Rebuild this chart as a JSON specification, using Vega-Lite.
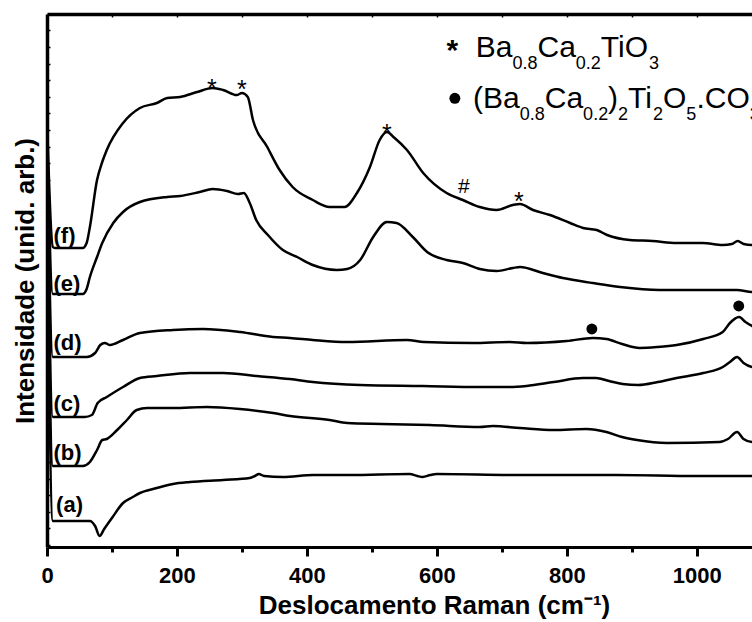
{
  "$schema": "https://vega.github.io/schema/vega-lite/v6.json",
  "width": 705,
  "height": 533,
  "autosize": {"type": "none"},
  "padding": {"left": 47, "top": 14, "right": 0, "bottom": 75},
  "background": "white",
  "config": {
    "view": {"stroke": null},
    "font": "Liberation Sans",
    "axis": {"domainColor": "black", "tickColor": "black", "labelColor": "black", "titleColor": "black", "grid": false}
  },
  "datasets": {
    "spectra": [
      {"s":"f","x":0,"y":428},{"s":"f","x":9,"y":300},{"s":"f","x":12,"y":299},{"s":"f","x":55,"y":299},{"s":"f","x":61,"y":304},{"s":"f","x":66,"y":320},{"s":"f","x":77,"y":367},{"s":"f","x":85,"y":385},{"s":"f","x":92,"y":397},{"s":"f","x":117,"y":424},{"s":"f","x":143,"y":439},{"s":"f","x":169,"y":444},{"s":"f","x":185,"y":449},{"s":"f","x":205,"y":450},{"s":"f","x":231,"y":455},{"s":"f","x":255,"y":459},{"s":"f","x":271,"y":457},{"s":"f","x":292,"y":452},{"s":"f","x":300,"y":454},{"s":"f","x":309,"y":450},{"s":"f","x":317,"y":427},{"s":"f","x":339,"y":400},{"s":"f","x":358,"y":377},{"s":"f","x":378,"y":360},{"s":"f","x":409,"y":347},{"s":"f","x":435,"y":340},{"s":"f","x":458,"y":340},{"s":"f","x":477,"y":354},{"s":"f","x":497,"y":380},{"s":"f","x":512,"y":407},{"s":"f","x":523,"y":415},{"s":"f","x":535,"y":409},{"s":"f","x":554,"y":397},{"s":"f","x":579,"y":374},{"s":"f","x":615,"y":354},{"s":"f","x":640,"y":347},{"s":"f","x":666,"y":340},{"s":"f","x":692,"y":337},{"s":"f","x":717,"y":342},{"s":"f","x":728,"y":343},{"s":"f","x":748,"y":337},{"s":"f","x":774,"y":332},{"s":"f","x":805,"y":324},{"s":"f","x":825,"y":319},{"s":"f","x":846,"y":317},{"s":"f","x":862,"y":312},{"s":"f","x":897,"y":307},{"s":"f","x":932,"y":306},{"s":"f","x":969,"y":304},{"s":"f","x":1009,"y":304},{"s":"f","x":1040,"y":302},{"s":"f","x":1054,"y":303},{"s":"f","x":1063,"y":306},{"s":"f","x":1072,"y":303},{"s":"f","x":1085,"y":302},{"s":"f","x":1100,"y":302},
      {"s":"e","x":0,"y":420},{"s":"e","x":9,"y":253},{"s":"e","x":55,"y":253},{"s":"e","x":61,"y":258},{"s":"e","x":66,"y":270},{"s":"e","x":77,"y":290},{"s":"e","x":85,"y":304},{"s":"e","x":102,"y":324},{"s":"e","x":117,"y":335},{"s":"e","x":143,"y":345},{"s":"e","x":185,"y":350},{"s":"e","x":205,"y":351},{"s":"e","x":235,"y":355},{"s":"e","x":255,"y":358},{"s":"e","x":277,"y":356},{"s":"e","x":294,"y":353},{"s":"e","x":303,"y":354},{"s":"e","x":312,"y":344},{"s":"e","x":322,"y":327},{"s":"e","x":340,"y":312},{"s":"e","x":363,"y":297},{"s":"e","x":385,"y":290},{"s":"e","x":409,"y":282},{"s":"e","x":446,"y":277},{"s":"e","x":462,"y":278},{"s":"e","x":482,"y":287},{"s":"e","x":502,"y":310},{"s":"e","x":523,"y":325},{"s":"e","x":538,"y":324},{"s":"e","x":563,"y":310},{"s":"e","x":585,"y":295},{"s":"e","x":615,"y":287},{"s":"e","x":640,"y":284},{"s":"e","x":666,"y":278},{"s":"e","x":692,"y":276},{"s":"e","x":717,"y":279},{"s":"e","x":728,"y":280},{"s":"e","x":763,"y":274},{"s":"e","x":794,"y":269},{"s":"e","x":840,"y":264},{"s":"e","x":882,"y":260},{"s":"e","x":943,"y":257},{"s":"e","x":1020,"y":257},{"s":"e","x":1062,"y":257},{"s":"e","x":1085,"y":255},{"s":"e","x":1100,"y":255},
      {"s":"d","x":0,"y":400},{"s":"d","x":9,"y":190},{"s":"d","x":61,"y":190},{"s":"d","x":74,"y":194},{"s":"d","x":82,"y":202},{"s":"d","x":89,"y":204},{"s":"d","x":97,"y":202},{"s":"d","x":117,"y":207},{"s":"d","x":143,"y":214},{"s":"d","x":194,"y":217},{"s":"d","x":240,"y":218},{"s":"d","x":297,"y":215},{"s":"d","x":348,"y":210},{"s":"d","x":374,"y":209},{"s":"d","x":409,"y":207},{"s":"d","x":462,"y":205},{"s":"d","x":554,"y":207},{"s":"d","x":580,"y":205},{"s":"d","x":655,"y":204},{"s":"d","x":712,"y":205},{"s":"d","x":739,"y":204},{"s":"d","x":800,"y":206},{"s":"d","x":840,"y":209},{"s":"d","x":861,"y":208},{"s":"d","x":885,"y":203},{"s":"d","x":912,"y":199},{"s":"d","x":940,"y":200},{"s":"d","x":969,"y":202},{"s":"d","x":1010,"y":208},{"s":"d","x":1040,"y":215},{"s":"d","x":1051,"y":224},{"s":"d","x":1065,"y":230},{"s":"d","x":1075,"y":225},{"s":"d","x":1085,"y":221},{"s":"d","x":1100,"y":218},
      {"s":"c","x":0,"y":380},{"s":"c","x":9,"y":130},{"s":"c","x":58,"y":130},{"s":"c","x":69,"y":132},{"s":"c","x":78,"y":144},{"s":"c","x":92,"y":150},{"s":"c","x":117,"y":160},{"s":"c","x":143,"y":169},{"s":"c","x":169,"y":171},{"s":"c","x":220,"y":174},{"s":"c","x":271,"y":174},{"s":"c","x":323,"y":171},{"s":"c","x":374,"y":168},{"s":"c","x":409,"y":165},{"s":"c","x":482,"y":162},{"s":"c","x":578,"y":161},{"s":"c","x":666,"y":160},{"s":"c","x":712,"y":160},{"s":"c","x":738,"y":161},{"s":"c","x":780,"y":165},{"s":"c","x":825,"y":169},{"s":"c","x":845,"y":169},{"s":"c","x":865,"y":166},{"s":"c","x":886,"y":163},{"s":"c","x":910,"y":162},{"s":"c","x":940,"y":165},{"s":"c","x":969,"y":169},{"s":"c","x":1010,"y":174},{"s":"c","x":1040,"y":180},{"s":"c","x":1051,"y":185},{"s":"c","x":1062,"y":190},{"s":"c","x":1072,"y":184},{"s":"c","x":1085,"y":180},{"s":"c","x":1100,"y":179},
      {"s":"b","x":0,"y":350},{"s":"b","x":9,"y":81},{"s":"b","x":55,"y":81},{"s":"b","x":66,"y":85},{"s":"b","x":77,"y":97},{"s":"b","x":85,"y":107},{"s":"b","x":92,"y":108},{"s":"b","x":108,"y":117},{"s":"b","x":123,"y":127},{"s":"b","x":138,"y":137},{"s":"b","x":154,"y":139},{"s":"b","x":194,"y":139},{"s":"b","x":246,"y":140},{"s":"b","x":297,"y":138},{"s":"b","x":348,"y":134},{"s":"b","x":374,"y":131},{"s":"b","x":435,"y":127},{"s":"b","x":462,"y":124},{"s":"b","x":515,"y":123},{"s":"b","x":589,"y":122},{"s":"b","x":666,"y":120},{"s":"b","x":686,"y":121},{"s":"b","x":728,"y":119},{"s":"b","x":780,"y":117},{"s":"b","x":830,"y":118},{"s":"b","x":861,"y":115},{"s":"b","x":885,"y":110},{"s":"b","x":908,"y":107},{"s":"b","x":954,"y":104},{"s":"b","x":1035,"y":105},{"s":"b","x":1048,"y":108},{"s":"b","x":1062,"y":115},{"s":"b","x":1072,"y":108},{"s":"b","x":1085,"y":105},{"s":"b","x":1100,"y":105},
      {"s":"a","x":0,"y":330},{"s":"a","x":9,"y":26},{"s":"a","x":66,"y":26},{"s":"a","x":74,"y":21},{"s":"a","x":81,"y":11},{"s":"a","x":88,"y":18},{"s":"a","x":101,"y":30},{"s":"a","x":117,"y":44},{"s":"a","x":132,"y":50},{"s":"a","x":143,"y":54},{"s":"a","x":169,"y":59},{"s":"a","x":194,"y":63},{"s":"a","x":220,"y":65},{"s":"a","x":271,"y":67},{"s":"a","x":312,"y":69},{"s":"a","x":320,"y":71},{"s":"a","x":326,"y":73},{"s":"a","x":334,"y":71},{"s":"a","x":363,"y":70},{"s":"a","x":410,"y":72},{"s":"a","x":466,"y":72},{"s":"a","x":558,"y":73},{"s":"a","x":570,"y":71},{"s":"a","x":578,"y":70},{"s":"a","x":590,"y":72},{"s":"a","x":600,"y":73},{"s":"a","x":723,"y":72},{"s":"a","x":877,"y":72},{"s":"a","x":1000,"y":71},{"s":"a","x":1085,"y":71},{"s":"a","x":1100,"y":71}
    ],
    "seriesLabels": [
      {"lab":"(f)","x":10,"y":311},{"lab":"(e)","x":10,"y":263},{"lab":"(d)","x":10,"y":204},
      {"lab":"(c)","x":10,"y":143},{"lab":"(b)","x":10,"y":94},{"lab":"(a)","x":14,"y":42}
    ],
    "legendMain": [
      {"t":"Ba","x":660,"y":490},{"t":"Ca","x":754.9,"y":490},{"t":"TiO","x":852.3,"y":490},
      {"t":"(Ba","x":655.8,"y":438.7},{"t":"Ca","x":766.2,"y":438.7},{"t":")","x":863.5,"y":438.7},{"t":"Ti","x":894.3,"y":438.7},{"t":"O","x":948.2,"y":438.7},{"t":".CO","x":999.4,"y":438.7}
    ],
    "legendSub": [
      {"t":"0.8","x":716.5,"y":478.5},{"t":"0.2","x":813.8,"y":478.5},{"t":"3","x":926.6,"y":478.5},
      {"t":"0.8","x":727.7,"y":427},{"t":"0.2","x":825.1,"y":427},{"t":"2","x":878.9,"y":427},{"t":"2","x":932.8,"y":427},{"t":"5","x":984,"y":427},{"t":"3","x":1081.5,"y":427}
    ],
    "legendStar": [{"t":"*","x":623.8,"y":486.8}],
    "peakMarks": [
      {"t":"*","x":253.8,"y":449.7},{"t":"*","x":300,"y":448.7},{"t":"*","x":523.1,"y":404.7},{"t":"*","x":726.2,"y":336.7}
    ],
    "hashMark": [{"t":"#","x":641.5,"y":354}],
    "dots": [
      {"x":627.7,"y":448.7},{"x":838.5,"y":218},{"x":1064.6,"y":241}
    ]
  },
  "layer": [
    {
      "data": {"name": "spectra"},
      "mark": {"type": "line", "stroke": "black", "strokeWidth": 2.5, "strokeJoin": "round", "interpolate": "monotone", "clip": true},
      "encoding": {
        "x": {
          "field": "x", "type": "quantitative",
          "scale": {"domain": [0, 1085], "nice": false, "zero": false},
          "axis": {
            "orient": "bottom", "values": [0, 200, 400, 600, 800, 1000], "format": "d",
            "domainWidth": 3, "tickWidth": 3, "tickSize": 9,
            "labelFont": "Liberation Sans", "labelFontWeight": "bold", "labelFontSize": 22, "labelPadding": 9,
            "labelFlush": false, "labelOverlap": false,
            "title": "Deslocamento Raman (cm⁻¹)", "titleFont": "Liberation Sans", "titleFontWeight": "bold", "titleFontSize": 26,
            "titleX": 387, "titlePadding": 6
          }
        },
        "y": {
          "field": "y", "type": "quantitative",
          "scale": {"domain": [0, 533], "nice": false, "zero": false},
          "axis": {
            "orient": "left",
            "values": [2, 18.6, 35.2, 51.8, 68.4, 85, 101.6, 118.2, 134.8, 151.4, 168, 184.6, 201.2, 217.8, 234.4, 251, 267.6, 284.2, 300.8, 317.4, 334, 350.6, 367.2, 383.8, 400.4, 417, 433.6, 450.2, 466.8, 483.4, 500, 516.6],
            "domainWidth": 3.5, "tickWidth": 1.5, "tickSize": -3, "labels": false,
            "title": "Intensidade (unid. arb.)", "titleFont": "Liberation Sans", "titleFontWeight": "bold", "titleFontSize": 26,
            "titlePadding": 8
          }
        },
        "detail": {"field": "s", "type": "nominal"}
      }
    },
    {
      "data": {"name": "seriesLabels"},
      "mark": {"type": "text", "font": "Liberation Sans", "fontWeight": "bold", "fontSize": 22, "align": "left", "baseline": "middle", "color": "black"},
      "encoding": {
        "x": {
          "field": "x", "type": "quantitative",
          "scale": {"domain": [0, 1085], "nice": false, "zero": false},
          "axis": {"orient": "bottom", "values": [100, 300, 500, 700, 900, 1100], "domain": false, "labels": false, "tickWidth": 3, "tickSize": 5, "title": null}
        },
        "y": {"field": "y", "type": "quantitative", "scale": {"domain": [0, 533], "nice": false, "zero": false}, "axis": null},
        "text": {"field": "lab", "type": "nominal"}
      }
    },
    {
      "data": {"name": "legendMain"},
      "mark": {"type": "text", "font": "Liberation Sans", "fontSize": 30, "align": "left", "baseline": "alphabetic", "color": "black"},
      "encoding": {
        "x": {
          "field": "x", "type": "quantitative",
          "scale": {"domain": [0, 1085], "nice": false, "zero": false},
          "axis": {"orient": "top", "values": [0, 100, 200, 300, 400, 500, 600, 700, 800, 900, 1000], "domainWidth": 3.5, "labels": false, "tickWidth": 1.5, "tickSize": -3, "title": null}
        },
        "y": {"field": "y", "type": "quantitative", "scale": {"domain": [0, 533], "nice": false, "zero": false}, "axis": null},
        "text": {"field": "t", "type": "nominal"}
      }
    },
    {
      "data": {"name": "legendSub"},
      "mark": {"type": "text", "font": "Liberation Sans", "fontSize": 18, "align": "left", "baseline": "alphabetic", "color": "black"},
      "encoding": {
        "x": {"field": "x", "type": "quantitative", "scale": {"domain": [0, 1085], "nice": false, "zero": false}, "axis": null},
        "y": {"field": "y", "type": "quantitative", "scale": {"domain": [0, 533], "nice": false, "zero": false}, "axis": null},
        "text": {"field": "t", "type": "nominal"}
      }
    },
    {
      "data": {"name": "legendStar"},
      "mark": {"type": "text", "font": "Liberation Sans", "fontWeight": "bold", "fontSize": 30, "align": "center", "baseline": "alphabetic", "color": "black"},
      "encoding": {
        "x": {"field": "x", "type": "quantitative", "scale": {"domain": [0, 1085], "nice": false, "zero": false}, "axis": null},
        "y": {"field": "y", "type": "quantitative", "scale": {"domain": [0, 533], "nice": false, "zero": false}, "axis": null},
        "text": {"field": "t", "type": "nominal"}
      }
    },
    {
      "data": {"name": "peakMarks"},
      "mark": {"type": "text", "font": "Liberation Sans", "fontSize": 25, "align": "center", "baseline": "alphabetic", "color": "black"},
      "encoding": {
        "x": {"field": "x", "type": "quantitative", "scale": {"domain": [0, 1085], "nice": false, "zero": false}, "axis": null},
        "y": {"field": "y", "type": "quantitative", "scale": {"domain": [0, 533], "nice": false, "zero": false}, "axis": null},
        "text": {"field": "t", "type": "nominal"}
      }
    },
    {
      "data": {"name": "hashMark"},
      "mark": {"type": "text", "font": "Liberation Sans", "fontSize": 21, "align": "center", "baseline": "alphabetic", "color": "black"},
      "encoding": {
        "x": {"field": "x", "type": "quantitative", "scale": {"domain": [0, 1085], "nice": false, "zero": false}, "axis": null},
        "y": {"field": "y", "type": "quantitative", "scale": {"domain": [0, 533], "nice": false, "zero": false}, "axis": null},
        "text": {"field": "t", "type": "nominal"}
      }
    },
    {
      "data": {"name": "dots"},
      "mark": {"type": "point", "shape": "circle", "filled": true, "size": 120, "color": "black", "opacity": 1},
      "encoding": {
        "x": {"field": "x", "type": "quantitative", "scale": {"domain": [0, 1085], "nice": false, "zero": false}, "axis": null},
        "y": {"field": "y", "type": "quantitative", "scale": {"domain": [0, 533], "nice": false, "zero": false}, "axis": null}
      }
    }
  ],
  "resolve": {"axis": {"x": "independent", "y": "independent"}}
}
